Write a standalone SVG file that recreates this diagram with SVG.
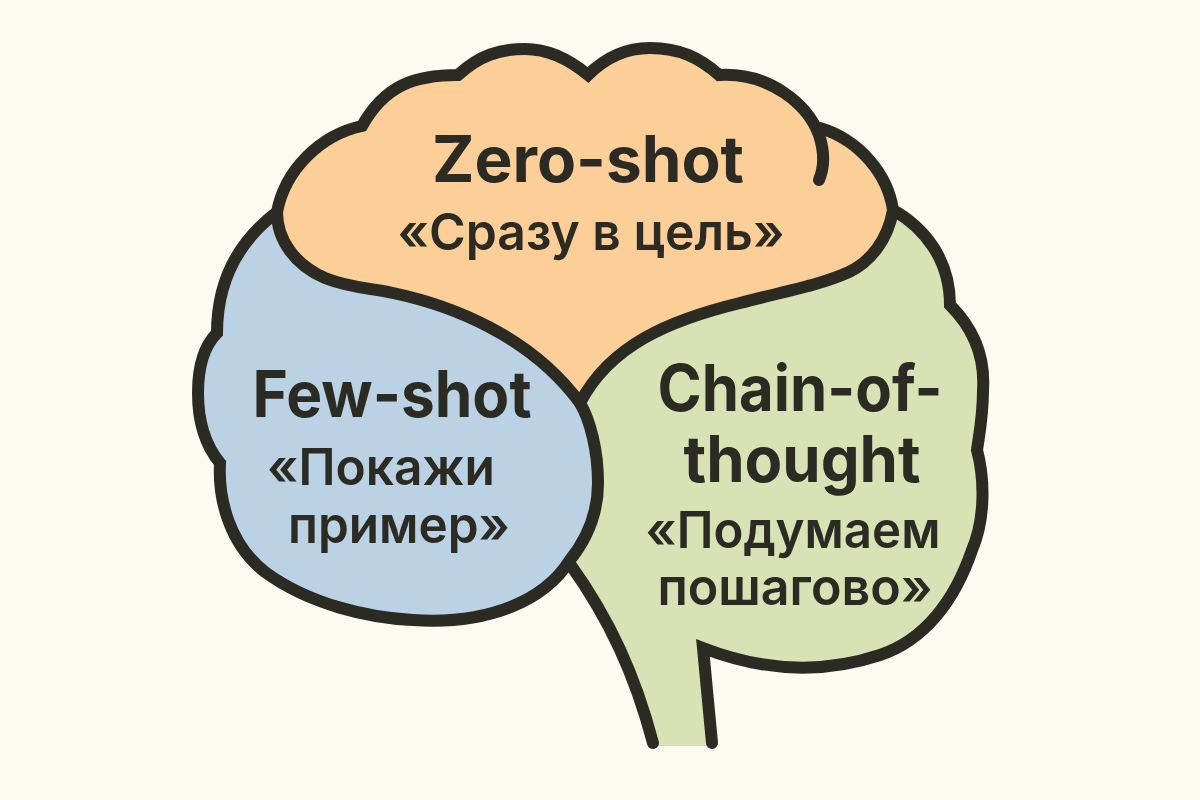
<svg xmlns="http://www.w3.org/2000/svg" width="1200" height="800" viewBox="0 0 1200 800">
<style>
.o{stroke:#2b2a23;stroke-width:12;stroke-linejoin:miter;stroke-linecap:round;fill:none}
text{font-family:Inter,"Noto Sans","Liberation Sans",sans-serif;fill:#2b2a23;text-anchor:middle}
.h{font-size:64px;font-weight:650}
.s{font-size:51px;font-weight:580}
</style>
<rect width="1200" height="800" fill="#fdfbf1"/>
<g id="green">
<path d="M580 403C610 345 670 320 740 303C790 290 820 285 849 272C870 262 888 240 893 210C925 228 950 260 950 305C975 330 985 360 983 390C983 415 980 430 977 450C985 480 985 520 972 550C955 600 925 640 880 655C820 675 760 670 703 648L712 746L653 746C635 675 610 620 570 564C600 520 605 450 580 403Z" fill="#d8e2b5"/>
<path class="o" d="M893 210C925 228 950 260 950 305C975 330 985 360 983 390C983 415 980 430 977 450C985 480 985 520 972 550C955 600 925 640 880 655C820 675 760 670 703 648L712 743"/>
<path class="o" d="M570 564C610 620 635 675 653 743"/>
</g>
<g id="blue">
<path d="M277 212C240 240 217 280 217 333C200 350 198 375 198 393C198 420 205 445 220 463C218 500 230 545 265 572C310 605 370 618 413 620C490 625 545 600 570 560C590 535 598 510 598 483C598 450 590 420 580 403C530 335 450 305 393 293C370 288 350 288 325 278C295 265 277 240 277 212Z" fill="#bad2e3"/>
<path class="o" d="M277 212C240 240 217 280 217 333C200 350 198 375 198 393C198 420 205 445 220 463C218 500 230 545 265 572C310 605 370 618 413 620C490 625 545 600 570 560C590 535 598 510 598 483C598 450 590 420 580 403"/>
</g>
<g id="orange">
<path d="M277 212C285 170 320 135 362 126C385 85 415 75 458 75C480 55 500 49 525 49C550 49 570 60 588 75C605 58 625 48 650 48C680 48 700 58 719 75C775 72 800 95 820 128C860 140 888 175 893 210C888 240 870 262 849 272C820 285 790 290 740 303C670 320 610 345 580 403C530 335 450 305 393 293C370 288 350 288 325 278C295 265 277 240 277 212Z" fill="#fccf98"/>
<path class="o" d="M277 212C285 170 320 135 362 126C385 85 415 75 458 75C480 55 500 49 525 49C550 49 570 60 588 75C605 58 625 48 650 48C680 48 700 58 719 75C770 72 808 105 819 135C825 153 824 168 819 180"/>
<path class="o" d="M820 128C860 140 888 175 893 210C888 240 870 262 849 272C820 285 790 290 740 303C670 320 610 345 580 403"/>
<path class="o" d="M277 212C277 240 295 265 325 278C350 288 370 288 393 293C450 305 530 335 580 403"/>
</g>
<text class="h" x="588" y="182" textLength="312" lengthAdjust="spacingAndGlyphs">Zero-shot</text>
<text class="s" x="591" y="250" textLength="387" lengthAdjust="spacingAndGlyphs">«Сразу в цель»</text>
<text class="h" x="392" y="417" textLength="279" lengthAdjust="spacingAndGlyphs">Few-shot</text>
<text class="s" x="381" y="485" textLength="228" lengthAdjust="spacingAndGlyphs">«Покажи</text>
<text class="s" x="399" y="543" textLength="222" lengthAdjust="spacingAndGlyphs">пример»</text>
<text class="h" x="800" y="411" textLength="285" lengthAdjust="spacingAndGlyphs">Chain-of-</text>
<text class="h" x="802" y="482" textLength="237" lengthAdjust="spacingAndGlyphs">thought</text>
<text class="s" x="793" y="548" textLength="295" lengthAdjust="spacingAndGlyphs">«Подумаем</text>
<text class="s" x="795" y="605" textLength="275" lengthAdjust="spacingAndGlyphs">пошагово»</text>
</svg>
